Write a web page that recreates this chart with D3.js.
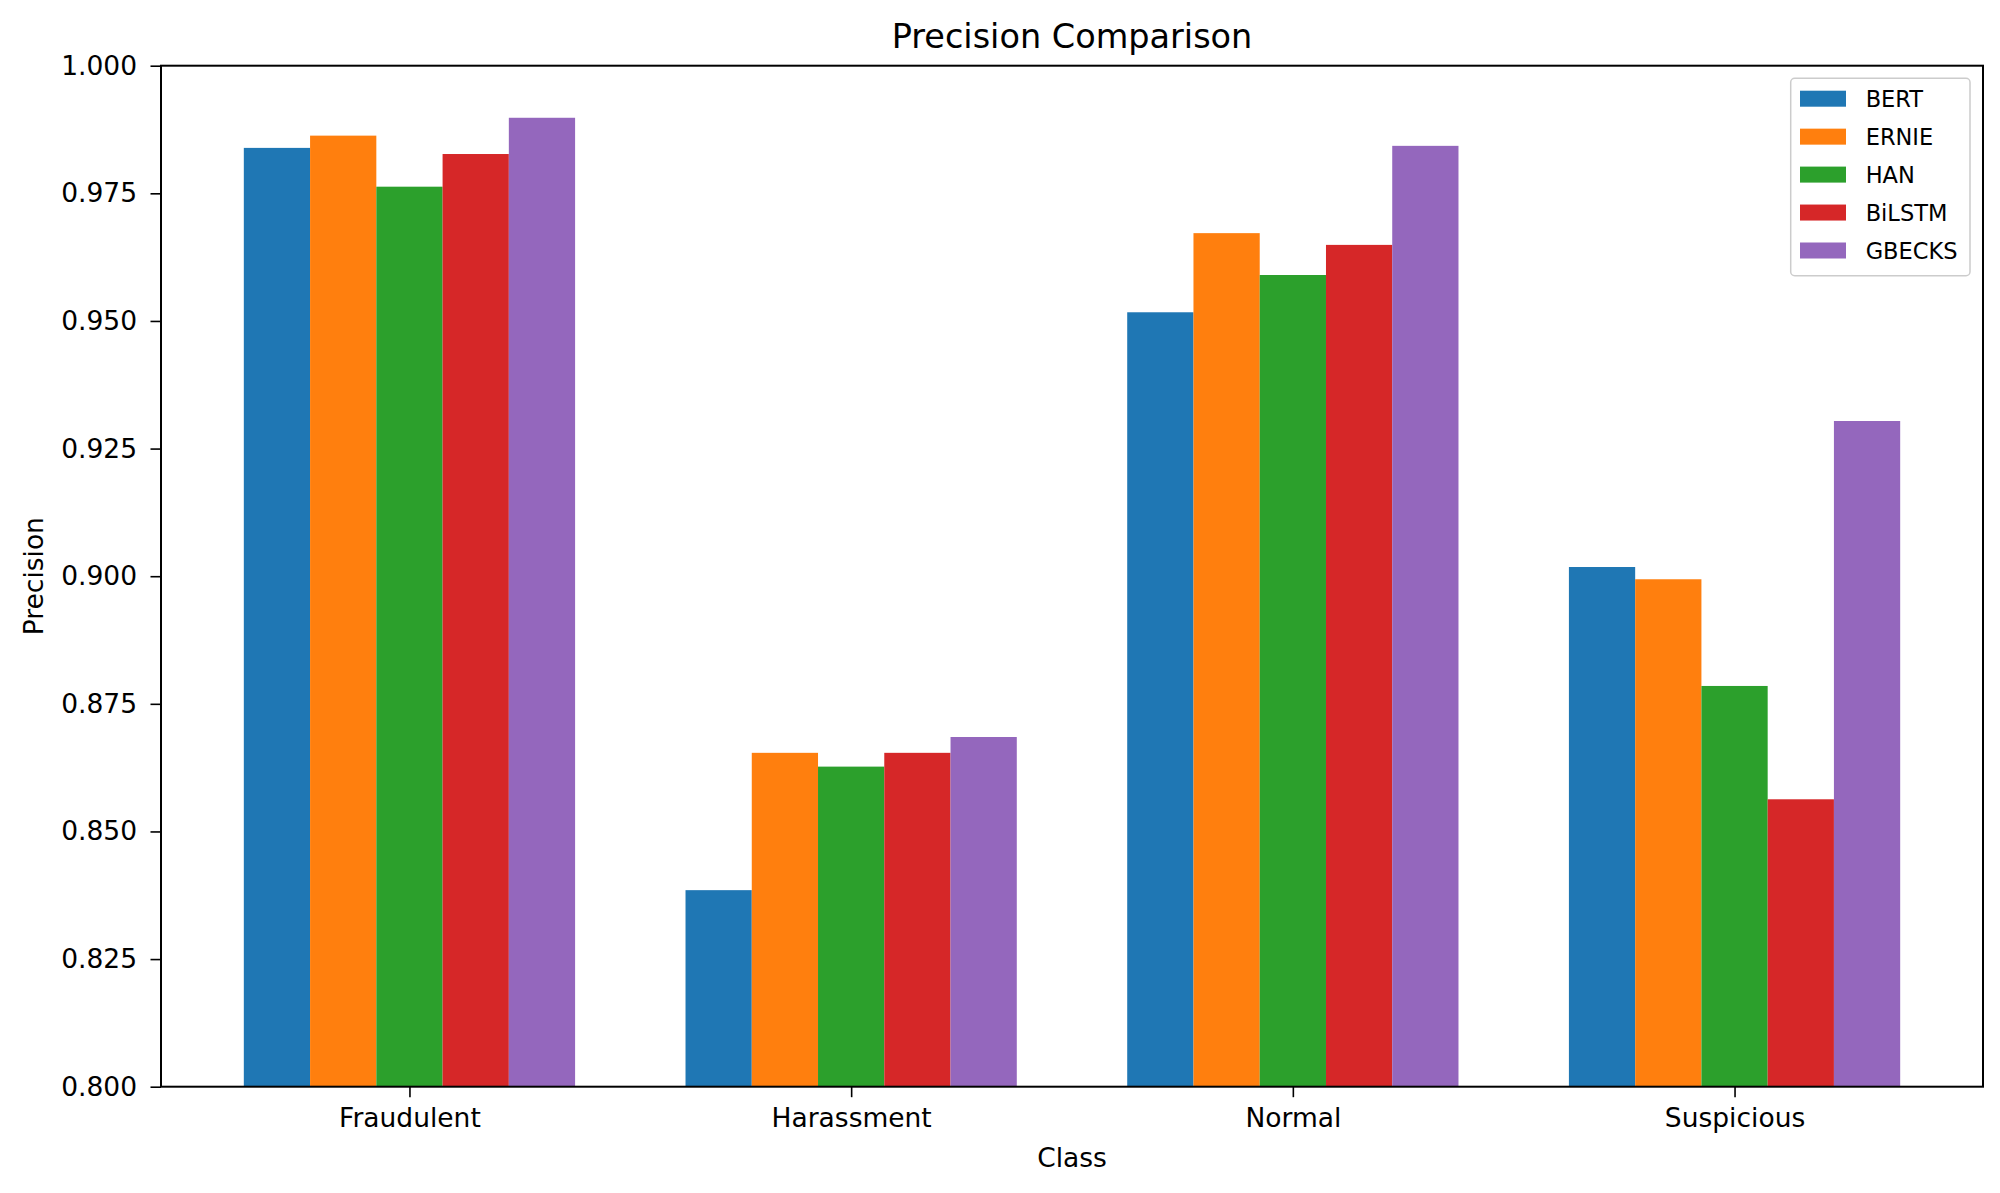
<!DOCTYPE html>
<html>
<head>
<meta charset="utf-8">
<script src="https://cdn.jsdelivr.net/npm/d3@7"></script>
<style>
  body { margin: 0; background: #fff; }
  text { font-family: "DejaVu Sans", sans-serif; }
</style>
</head>
<body>
<div id="chart"></div>
<script>
// ── Data ────────────────────────────────────────────────
const categories = ["Fraudulent", "Harassment", "Normal", "Suspicious"];
const models     = ["BERT", "ERNIE", "HAN", "BiLSTM", "GBECKS"];
const bert   = [0.9839, 0.8385, 0.9517, 0.9018];
const ernie  = [0.9863, 0.8654, 0.9672, 0.8994];
const han    = [0.9763, 0.8627, 0.9590, 0.8785];
const bilstm = [0.9827, 0.8654, 0.9649, 0.8563];
const gbecks = [0.9898, 0.8685, 0.9843, 0.9304];
const yTicks = [0.800, 0.825, 0.850, 0.875, 0.900, 0.925, 0.950, 0.975, 1.000];
const colours = ["#1f77b4", "#ff7f0e", "#2ca02c", "#d62728", "#9467bd"];

const series = [bert, ernie, han, bilstm, gbecks];

const W = 2000, H = 1193;
const PLOT = { left: 161, right: 1983, top: 65.7, bottom: 1086.7 };
const BAR_W = 0.15;

const svg = d3.select("#chart").append("svg").attr("width", W).attr("height", H);
svg.append("rect").attr("width", W).attr("height", H).attr("fill", "#fff");

const x = d3.scaleLinear().domain([-0.5625, 3.5625]).range([PLOT.left, PLOT.right]);
const y = d3.scaleLinear().domain([0.8, 1.0]).range([PLOT.bottom, PLOT.top]);

// ── Bars ────────────────────────────────────────────────
series.forEach((vals, j) => {
  svg.append("g").selectAll("rect").data(vals).join("rect")
    .attr("x", (d, i) => x(i + (j - 2) * BAR_W - BAR_W / 2))
    .attr("width", x(BAR_W) - x(0))
    .attr("y", d => y(d))
    .attr("height", d => y(0.8) - y(d))
    .attr("fill", colours[j]);
});

// ── Axes ────────────────────────────────────────────────
svg.append("g").attr("transform", `translate(0,${PLOT.bottom})`)
  .call(d3.axisBottom(x).tickValues([0, 1, 2, 3]).tickFormat(i => categories[i])
    .tickSize(10.5).tickPadding(11))
  .call(ax => ax.select(".domain").remove())
  .call(ax => ax.selectAll("line").attr("stroke", "#000").attr("stroke-width", 1.6))
  .call(ax => ax.selectAll("text").attr("fill", "#000").attr("font-size", 26.5)
    .attr("font-family", "DejaVu Sans"));

svg.append("g").attr("transform", `translate(${PLOT.left},0)`)
  .call(d3.axisLeft(y).tickValues(yTicks).tickFormat(d3.format(".3f"))
    .tickSize(10.5).tickPadding(13.5))
  .call(ax => ax.select(".domain").remove())
  .call(ax => ax.selectAll("line").attr("stroke", "#000").attr("stroke-width", 1.6))
  .call(ax => ax.selectAll("text").attr("fill", "#000").attr("font-size", 26.5)
    .attr("font-family", "DejaVu Sans"));

// Frame
svg.append("rect")
  .attr("x", PLOT.left).attr("y", PLOT.top)
  .attr("width", PLOT.right - PLOT.left).attr("height", PLOT.bottom - PLOT.top)
  .attr("fill", "none").attr("stroke", "#000").attr("stroke-width", 2);

// ── Titles ──────────────────────────────────────────────
svg.append("text")
  .attr("x", (PLOT.left + PLOT.right) / 2).attr("y", 48)
  .attr("text-anchor", "middle").attr("font-size", 33.5).attr("fill", "#000")
  .text("Precision Comparison");

svg.append("text")
  .attr("x", (PLOT.left + PLOT.right) / 2).attr("y", 1167)
  .attr("text-anchor", "middle").attr("font-size", 26.5).attr("fill", "#000")
  .text("Class");

svg.append("text")
  .attr("transform", `translate(43,${(PLOT.top + PLOT.bottom) / 2}) rotate(-90)`)
  .attr("text-anchor", "middle").attr("font-size", 26.5).attr("fill", "#000")
  .text("Precision");

// ── Legend ──────────────────────────────────────────────
const lg = svg.append("g");
lg.append("rect")
  .attr("x", 1790.7).attr("y", 78.3).attr("width", 179.3).attr("height", 197.4)
  .attr("rx", 4).attr("fill", "#fff").attr("fill-opacity", 0.8)
  .attr("stroke", "#ccc").attr("stroke-width", 1.5);

models.forEach((m, j) => {
  const cy = 98.7 + j * 37.95;
  lg.append("rect").attr("x", 1800).attr("y", cy - 8).attr("width", 46).attr("height", 16)
    .attr("fill", colours[j]);
  lg.append("text").attr("x", 1865.7).attr("y", cy + 8)
    .attr("font-size", 22.5).attr("fill", "#000").text(m);
});
</script>
</body>
</html>
